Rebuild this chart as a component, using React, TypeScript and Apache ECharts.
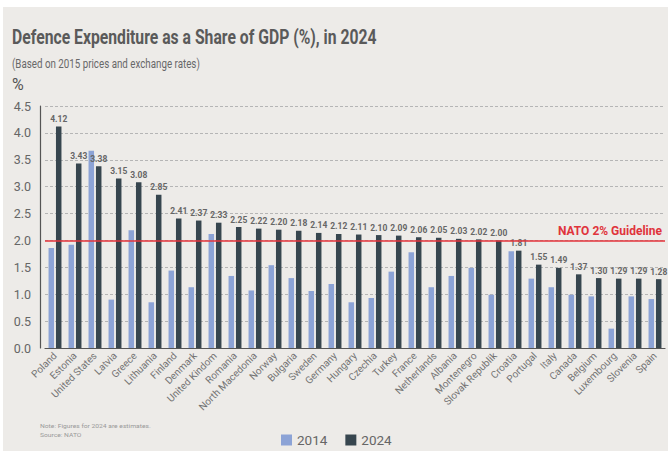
import React, { useEffect, useRef } from "react";
import * as echarts from "echarts";

const countries = [
  "Poland", "Estonia", "United States", "Latvia", "Greece", "Lithuania", "Finland", "Denmark",
  "United Kindom", "Romania", "North Macedonia", "Norway", "Bulgaria", "Sweden", "Germany",
  "Hungary", "Czechia", "Turkey", "France", "Netherlands", "Albania", "Montenegro",
  "Slovak Republik", "Croatia", "Portugal", "Italy", "Canada", "Belgium", "Luxembourg",
  "Slovenia", "Spain",
];
const values2014 = [
  1.86, 1.92, 3.67, 0.9, 2.19, 0.85, 1.44, 1.13, 2.12, 1.34, 1.07, 1.54, 1.3, 1.06, 1.19,
  0.85, 0.93, 1.42, 1.78, 1.13, 1.34, 1.49, 0.99, 1.8, 1.29, 1.13, 0.99, 0.96, 0.36, 0.96, 0.91,
];
const values2024 = [
  4.12, 3.43, 3.38, 3.15, 3.08, 2.85, 2.41, 2.37, 2.33, 2.25, 2.22, 2.2, 2.18, 2.14, 2.12,
  2.11, 2.1, 2.09, 2.06, 2.05, 2.03, 2.02, 2.0, 1.81, 1.55, 1.49, 1.37, 1.3, 1.29, 1.29, 1.28,
];
const seriesNames = ["2014", "2024"];
const guideline = 2.0;
const guidelineLabel = "NATO 2% Guideline";
const title = "Defence Expenditure as a Share of GDP (%), in 2024";
const subtitle = "(Based on 2015 prices and exchange rates)";
const unitLabel = "%";
const noteLines = ["Note: Figures for 2024 are estimates.", "Source: NATO"];

const FONT = "Roboto, 'Noto Sans', sans-serif";

function fitScale(text: string, font: string, target: number): number {
  const c = document.createElement("canvas");
  const ctx = c.getContext("2d");
  if (!ctx) return 1;
  ctx.font = font;
  const w = ctx.measureText(text).width;
  return w > 0 ? target / w : 1;
}

export default function App() {
  const ref = useRef<HTMLDivElement>(null);
  useEffect(() => {
    if (!ref.current) return;
    const chart = echarts.init(ref.current, undefined, { renderer: "svg" });
    const titleScale = fitScale(title, "bold 19.5px Roboto", 365);
    const subScale = fitScale(subtitle, "12px Roboto", 188);
    const noteScale = fitScale(noteLines[0], "6px Roboto", 111);

    const option: any = {
      animation: false,
      backgroundColor: "#ffffff",
      textStyle: { fontFamily: FONT },
      graphic: [
        {
          type: "rect",
          z: -10,
          shape: { x: 3, y: 7, width: 665, height: 444 },
          style: { fill: "#edebe8" },
          silent: true,
        },
        {
          type: "text",
          x: 12,
          y: 27,
          scaleX: titleScale,
          style: {
            text: title,
            font: "bold 19.5px Roboto",
            fill: "#5a5a5a",
            textVerticalAlign: "top",
          },
        },
        {
          type: "text",
          x: 12,
          y: 58,
          scaleX: subScale,
          style: { text: subtitle, font: "12px Roboto", fill: "#686868", textVerticalAlign: "top" },
        },
        {
          type: "text",
          x: 12,
          y: 76,
          style: { text: unitLabel, font: "16px Roboto", fill: "#555555", textVerticalAlign: "top" },
        },
        {
          type: "text",
          x: 40,
          y: 423,
          scaleX: noteScale,
          style: { text: noteLines[0], font: "6px Roboto", fill: "#999999", textVerticalAlign: "top" },
        },
        {
          type: "text",
          x: 40,
          y: 432,
          scaleX: noteScale,
          style: { text: noteLines[1], font: "6px Roboto", fill: "#999999", textVerticalAlign: "top" },
        },
      ],
      legend: {
        data: seriesNames,
        left: 276,
        top: 428,
        itemWidth: 11,
        itemHeight: 11,
        itemGap: 18,
        icon: "rect",
        textStyle: { fontSize: 13.5, color: "#666666", fontFamily: FONT },
      },
      grid: { left: 45, right: 3, top: 106, bottom: 103, containLabel: false },
      xAxis: {
        type: "category",
        data: countries,
        axisLine: { show: true, lineStyle: { color: "#555555", width: 1.2 } },
        axisTick: { show: false },
        axisLabel: {
          interval: 0,
          rotate: 45,
          fontSize: 10,
          color: "#747474",
          margin: 6,
          fontFamily: FONT,
        },
      },
      yAxis: {
        type: "value",
        min: 0,
        max: 4.5,
        interval: 0.5,
        offset: 5,
        axisLine: { show: true, lineStyle: { color: "#555555", width: 1.2 } },
        axisTick: { show: false },
        axisLabel: {
          formatter: (v: number) => v.toFixed(1),
          fontSize: 12.5,
          color: "#666666",
          margin: 9,
          fontFamily: FONT,
        },
        splitLine: { show: true, lineStyle: { color: "#b5b5b5", type: [3, 2], width: 1 } },
      },
      series: [
        {
          name: seriesNames[0],
          type: "bar",
          data: values2014,
          barWidth: 5.5,
          barGap: "35%",
          itemStyle: { color: "#8ca3d6" },
        },
        {
          name: seriesNames[1],
          type: "bar",
          data: values2024,
          barWidth: 5.5,
          itemStyle: { color: "#37464f" },
          label: {
            show: true,
            position: "top",
            distance: 3,
            formatter: (p: any) => Number(p.value).toFixed(2),
            fontSize: 8.5,
            fontWeight: "bold",
            color: "#666666",
            fontFamily: FONT,
          },
          markLine: {
            silent: true,
            symbol: "none",
            data: [{ yAxis: guideline }],
            lineStyle: { color: "#e5333b", width: 1.5, type: "solid" },
            label: {
              show: true,
              position: "insideEndTop",
              formatter: guidelineLabel,
              color: "#e0333b",
              fontSize: 12,
              fontWeight: "bold",
              fontFamily: FONT,
              distance: [3, 3],
            },
          },
        },
      ],
    };
    chart.setOption(option);
    return () => chart.dispose();
  }, []);
  return (
    <div
      ref={ref}
      style={{ position: "absolute", left: 0, top: 0, width: 668, height: 451 }}
    />
  );
}
